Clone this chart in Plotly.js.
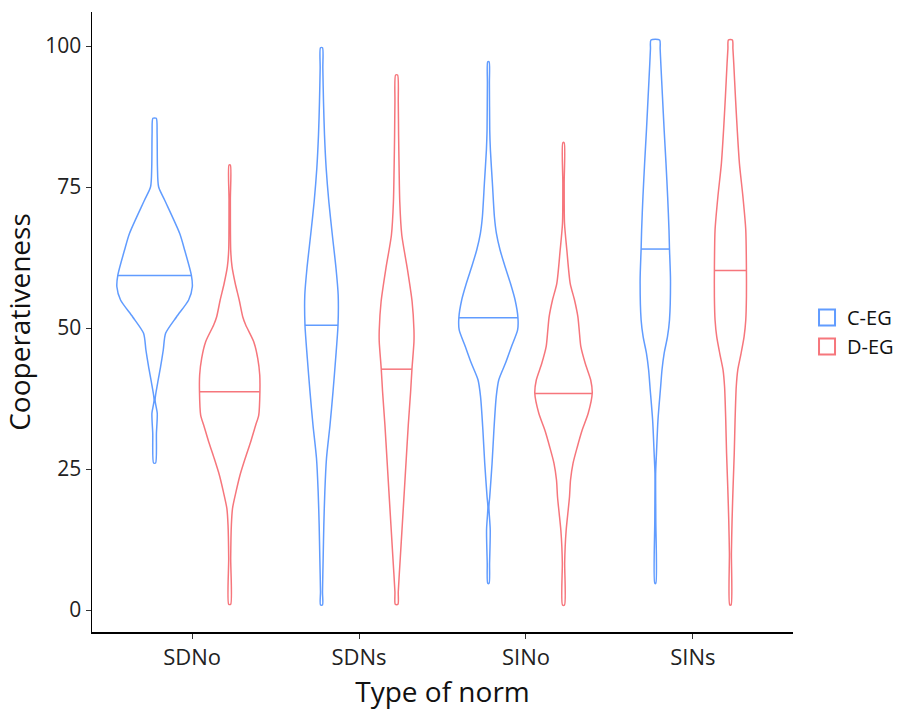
<!DOCTYPE html>
<html>
<head>
<meta charset="utf-8">
<script src="https://cdn.plot.ly/plotly-3.0.1.min.js"></script>
<style>html,body{margin:0;padding:0;background:#fff;}#chart{width:904px;height:711px;}</style>
</head>
<body>
<div id="chart"></div>
<script>
// ---- Data (y = Cooperativeness level, w = half-width of violin in category units) ----
const categories = ['SDNo', 'SDNs', 'SINo', 'SINs'];
const groups = ['C-EG', 'D-EG'];
const yTicks = [0, 25, 50, 75, 100];

// SDNo
const sdnoC_y = [26.06, 31.33, 34.88, 37.23, 40.20, 43.14, 46.10, 49.06, 52.00, 54.96, 57.32, 59.40, 63.83, 66.79, 72.70, 75.05, 78.60, 84.52, 87.18];
const sdnoC_w = [0.006, 0.011, 0.016, 0.003, 0.018, 0.036, 0.052, 0.066, 0.132, 0.204, 0.226, 0.220, 0.180, 0.150, 0.060, 0.024, 0.017, 0.015, 0.010];
const sdnoD_y = [1.01, 9.17, 15.07, 18.03, 20.98, 23.94, 26.90, 29.84, 32.80, 34.57, 38.71, 41.67, 44.63, 47.57, 50.53, 52.00, 54.96, 57.93, 60.87, 63.83, 72.70, 78.90];
const sdnoD_w = [0.006, 0.006, 0.010, 0.017, 0.038, 0.062, 0.093, 0.126, 0.156, 0.174, 0.181, 0.180, 0.168, 0.144, 0.096, 0.078, 0.057, 0.033, 0.014, 0.006, 0.004, 0.004];
// SDNs
const sdnsC_y = [0.89, 3.24, 9.17, 15.07, 20.98, 26.90, 32.80, 38.71, 44.63, 50.53, 55.85, 60.59, 66.49, 72.39, 78.32, 84.22, 90.12, 96.05, 99.70];
const sdnsC_w = [0.006, 0.006, 0.010, 0.014, 0.020, 0.030, 0.051, 0.069, 0.085, 0.099, 0.100, 0.087, 0.065, 0.044, 0.028, 0.018, 0.012, 0.008, 0.006];
const sdnsD_y = [1.01, 3.24, 9.17, 15.07, 20.98, 26.90, 32.80, 38.71, 42.73, 47.57, 49.65, 54.66, 60.59, 66.49, 72.39, 78.32, 84.22, 90.12, 94.86];
const sdnsD_w = [0.008, 0.010, 0.022, 0.034, 0.046, 0.058, 0.070, 0.084, 0.092, 0.104, 0.104, 0.093, 0.064, 0.031, 0.019, 0.015, 0.012, 0.010, 0.006];
// SINo
const sinoC_y = [4.73, 8.28, 14.18, 18.32, 20.09, 26.01, 31.91, 37.82, 40.78, 43.74, 46.68, 49.65, 51.83, 54.96, 57.93, 60.87, 63.83, 66.79, 69.73, 75.66, 81.56, 85.11, 93.39, 97.22];
const sinoC_w = [0.004, 0.007, 0.011, 0.003, 0.008, 0.022, 0.033, 0.047, 0.062, 0.102, 0.138, 0.175, 0.177, 0.160, 0.132, 0.100, 0.070, 0.048, 0.036, 0.024, 0.012, 0.008, 0.006, 0.004];
const sinoD_y = [0.89, 8.28, 11.22, 14.18, 17.15, 20.09, 23.05, 26.01, 28.95, 31.91, 34.88, 38.42, 40.78, 43.74, 46.68, 49.65, 52.00, 54.96, 57.93, 63.83, 68.56, 75.66, 82.85];
const sinoD_w = [0.006, 0.007, 0.010, 0.016, 0.026, 0.036, 0.042, 0.057, 0.083, 0.112, 0.148, 0.172, 0.163, 0.130, 0.104, 0.094, 0.086, 0.066, 0.040, 0.020, 0.006, 0.004, 0.004];
// SINs
const sinsC_y = [4.73, 15.96, 24.24, 27.78, 33.69, 39.59, 42.55, 45.51, 48.46, 51.42, 58.51, 64.01, 67.38, 73.28, 79.20, 85.11, 91.01, 96.93, 99.5, 101.06];
const sinsC_w = [0.003, 0.003, 0.002, 0.007, 0.016, 0.032, 0.040, 0.053, 0.073, 0.085, 0.091, 0.085, 0.082, 0.074, 0.064, 0.053, 0.043, 0.033, 0.029, 0.026];
const sinsD_y = [0.89, 10.05, 15.96, 21.86, 27.78, 33.69, 39.59, 42.55, 45.51, 48.46, 51.42, 55.55, 60.16, 67.38, 73.28, 79.20, 85.11, 91.01, 96.93, 99.5, 101.06];
const sinsD_w = [0.004, 0.006, 0.010, 0.016, 0.023, 0.028, 0.035, 0.044, 0.064, 0.082, 0.092, 0.096, 0.096, 0.092, 0.075, 0.054, 0.041, 0.030, 0.020, 0.015, 0.012];

// medians (horizontal line inside each violin)
const mediansC = [59.3, 50.5, 51.8, 64.0];
const mediansD = [38.7, 42.7, 38.4, 60.2];

// ---- Build traces ----
const violins = {
  'C-EG': [[sdnoC_y, sdnoC_w], [sdnsC_y, sdnsC_w], [sinoC_y, sinoC_w], [sinsC_y, sinsC_w]],
  'D-EG': [[sdnoD_y, sdnoD_w], [sdnsD_y, sdnsD_w], [sinoD_y, sinoD_w], [sinsD_y, sinsD_w]]
};
const medians = {'C-EG': mediansC, 'D-EG': mediansD};
const colors = {'C-EG': '#619CFF', 'D-EG': '#F6767C'};
const offsets = {'C-EG': -0.225, 'D-EG': 0.225};

function interp(ys, ws, v) {
  for (let i = 0; i < ys.length - 1; i++) {
    if (v >= ys[i] && v <= ys[i + 1]) {
      const t = (v - ys[i]) / (ys[i + 1] - ys[i]);
      return ws[i] + t * (ws[i + 1] - ws[i]);
    }
  }
  return 0;
}

const traces = [];
groups.forEach(g => {
  categories.forEach((c, ci) => {
    const [ys, ws] = violins[g][ci];
    const xc = ci + 1 + offsets[g];
    const xr = ys.map((_, i) => xc + ws[i]);
    const xl = ys.map((_, i) => xc - ws[i]).reverse();
    const yl = ys.slice().reverse();
    traces.push({
      type: 'scatter', mode: 'lines',
      x: xr.concat(xl, [xr[0]]),
      y: ys.concat(yl, [ys[0]]),
      line: {color: colors[g], width: 1.5, shape: 'spline', smoothing: 0.7},
      name: g, legendgroup: g, showlegend: false,
      hoverinfo: 'skip'
    });
    const m = medians[g][ci];
    const wm = interp(ys, ws, m);
    traces.push({
      type: 'scatter', mode: 'lines',
      x: [xc - wm, xc + wm], y: [m, m],
      line: {color: colors[g], width: 1.5},
      legendgroup: g, showlegend: false, hoverinfo: 'skip'
    });
  });
  // legend entry: open square key like ggplot's violin key
  traces.push({
    type: 'scatter', mode: 'markers', x: [null], y: [null],
    name: g, legendgroup: g, showlegend: true,
    marker: {symbol: 'square-open', size: 20, color: colors[g], line: {width: 2, color: colors[g]}},
    hoverinfo: 'skip'
  });
});

const layout = {
  width: 904, height: 711,
  margin: {l: 92, r: 111, t: 12, b: 79, autoexpand: false},
  paper_bgcolor: '#fff', plot_bgcolor: '#fff',
  font: {family: '"Open Sans", Lato, sans-serif', color: '#222'},
  showlegend: true,
  legend: {x: 1.02, y: 0.484, xanchor: 'left', yanchor: 'middle',
           font: {size: 20, color: '#111'}, tracegroupgap: 0, itemwidth: 30},
  xaxis: {
    range: [0.4, 4.6], tickvals: [1, 2, 3, 4], ticktext: categories,
    showgrid: false, zeroline: false, showline: true, linecolor: '#000', linewidth: 1.5,
    ticks: 'outside', ticklen: 5, tickcolor: '#333', tickwidth: 1,
    tickfont: {size: 22, color: '#222'},
    title: {text: 'Type of norm', font: {size: 28, color: '#111'}, standoff: 12}
  },
  yaxis: {
    range: [-3.9, 106.03], tickvals: yTicks,
    showgrid: false, zeroline: false, showline: true, linecolor: '#000', linewidth: 1.5,
    ticks: 'outside', ticklen: 5, tickcolor: '#333', tickwidth: 1,
    tickfont: {size: 21, color: '#222'},
    title: {text: 'Cooperativeness', font: {size: 28, color: '#111'}, standoff: 7}
  }
};

Plotly.newPlot('chart', traces, layout, {displayModeBar: false, staticPlot: true});
</script>
</body>
</html>
